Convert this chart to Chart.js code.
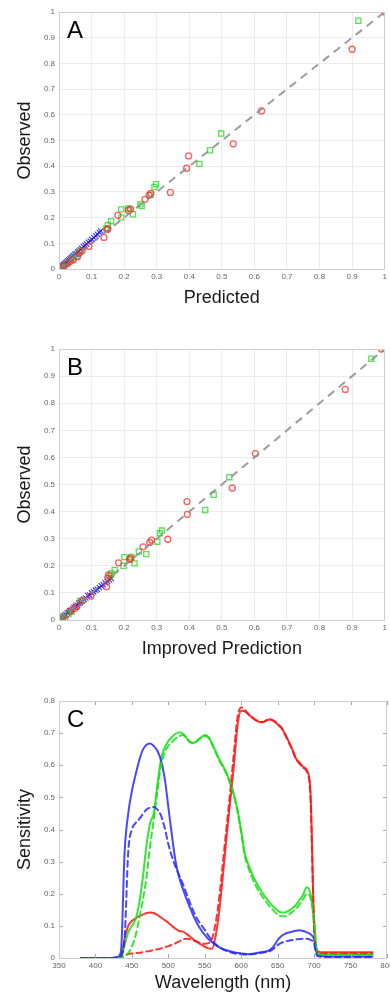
<!DOCTYPE html>
<html><head><meta charset="utf-8">
<script src="https://cdn.jsdelivr.net/npm/chart.js@4/dist/chart.umd.min.js"></script>
<style>
html,body{margin:0;padding:0;background:#fff;width:390px;height:997px;overflow:hidden}
canvas{position:absolute;left:0}
</style></head><body>
<canvas id="cA" width="390" height="311" style="top:0;width:390px;height:311px"></canvas>
<canvas id="cB" width="390" height="351" style="top:311px;width:390px;height:351px"></canvas>
<canvas id="cC" width="390" height="335" style="top:662px;width:390px;height:335px"></canvas>
<script>
// ---------- Panel A (Predicted vs Observed) ----------
const redPredA = [1.0,0.90,0.622,0.535,0.398,0.392,0.342,0.282,0.277,0.264,0.22,0.213,0.181,0.15,0.148,0.138,0.092,0.071,0.062,0.057,0.044,0.035,0.025,0.015,0.006];
const redObsA  = [1.0,0.855,0.615,0.487,0.44,0.392,0.298,0.294,0.287,0.271,0.233,0.228,0.209,0.157,0.154,0.123,0.088,0.071,0.062,0.048,0.036,0.03,0.02,0.011,0.003];
const greenPredA = [0.919,0.498,0.464,0.431,0.298,0.293,0.281,0.254,0.25,0.227,0.217,0.212,0.191,0.191,0.16,0.15,0.145,0.066,0.054,0.042,0.028,0.014,0.005];
const greenObsA  = [0.966,0.527,0.462,0.409,0.33,0.319,0.289,0.245,0.252,0.213,0.233,0.236,0.232,0.201,0.186,0.171,0.158,0.07,0.05,0.04,0.024,0.008,0.004];
const bluePredA = [0.002,0.005,0.008,0.011,0.014,0.017,0.02,0.024,0.027,0.031,0.034,0.038,0.041,0.045,0.049,0.053,0.057,0.061,0.066,0.07,0.075,0.08,0.085,0.09,0.096,0.101,0.107,0.113,0.118,0.124,0.128];
const blueObsA  = [0.004,0.006,0.01,0.012,0.017,0.019,0.024,0.027,0.032,0.035,0.04,0.043,0.048,0.052,0.057,0.06,0.066,0.07,0.075,0.08,0.087,0.092,0.097,0.104,0.109,0.115,0.122,0.129,0.135,0.142,0.148];

// ---------- Panel B (Improved Prediction vs Observed) ----------
const redPredB = [0.99,0.879,0.603,0.532,0.393,0.394,0.334,0.284,0.279,0.258,0.22,0.216,0.183,0.152,0.15,0.146,0.098,0.072,0.055,0.049,0.035,0.018,0.01];
const redObsB  = [1.0,0.851,0.614,0.487,0.437,0.39,0.298,0.295,0.286,0.27,0.228,0.223,0.211,0.166,0.155,0.123,0.088,0.072,0.05,0.043,0.033,0.006,0.003];
const greenPredB = [0.959,0.523,0.475,0.449,0.316,0.31,0.302,0.268,0.245,0.232,0.222,0.218,0.201,0.198,0.171,0.161,0.157,0.065,0.039,0.029,0.012,0.004];
const greenObsB  = [0.964,0.527,0.462,0.406,0.33,0.32,0.289,0.243,0.253,0.209,0.233,0.225,0.232,0.2,0.185,0.172,0.163,0.07,0.031,0.022,0.01,0.003];
const bluePredB = [0.003,0.006,0.01,0.013,0.017,0.021,0.025,0.029,0.033,0.037,0.042,0.046,0.051,0.056,0.061,0.066,0.071,0.077,0.082,0.088,0.094,0.1,0.106,0.112,0.118,0.124,0.13,0.136,0.142,0.149,0.155,0.16];
const blueObsB  = [0.002,0.007,0.009,0.014,0.016,0.02,0.026,0.028,0.034,0.036,0.041,0.047,0.05,0.055,0.062,0.064,0.07,0.076,0.081,0.09,0.092,0.1,0.104,0.11,0.113,0.12,0.126,0.13,0.137,0.143,0.148,0.153];

const identityLine = [0, 1];

// ---------- Panel C (Sensitivity spectra) ----------
const wavelengths = [380,400,420,430,435,440,445,450,455,460,465,470,475,480,485,490,495,500,505,510,515,520,525,530,535,540,545,550,555,560,565,570,575,580,585,590,595,600,605,610,615,620,625,630,635,640,645,650,655,660,665,670,675,680,685,690,695,700,703,706,710,720,740,760,780];
const blueSolid  = [0,0,0,0.003,0.02,0.33,0.45,0.52,0.57,0.615,0.648,0.664,0.668,0.66,0.645,0.615,0.56,0.47,0.38,0.3,0.25,0.215,0.183,0.155,0.128,0.105,0.087,0.072,0.059,0.049,0.04,0.033,0.028,0.024,0.021,0.018,0.016,0.014,0.013,0.012,0.013,0.015,0.017,0.019,0.021,0.026,0.038,0.056,0.068,0.075,0.079,0.082,0.085,0.086,0.084,0.08,0.074,0.058,0.02,0.008,0.006,0.005,0.005,0.005,0.005];
const blueDashed = [0,0,0,0.002,0.008,0.06,0.33,0.4,0.42,0.432,0.448,0.462,0.468,0.47,0.462,0.443,0.405,0.355,0.315,0.283,0.256,0.23,0.2,0.17,0.143,0.12,0.103,0.088,0.07,0.055,0.043,0.034,0.027,0.022,0.018,0.015,0.013,0.012,0.011,0.011,0.012,0.013,0.015,0.017,0.019,0.022,0.03,0.04,0.047,0.051,0.054,0.056,0.058,0.059,0.06,0.06,0.056,0.045,0.012,0.005,0.004,0.003,0.003,0.003,0.003];
const greenSolid  = [null,null,null,0,0.005,0.04,0.08,0.1,0.12,0.17,0.25,0.35,0.42,0.45,0.54,0.62,0.655,0.675,0.688,0.698,0.703,0.698,0.685,0.672,0.67,0.678,0.687,0.694,0.688,0.668,0.643,0.618,0.598,0.575,0.545,0.508,0.46,0.395,0.325,0.29,0.262,0.238,0.218,0.2,0.184,0.17,0.158,0.148,0.142,0.142,0.147,0.155,0.165,0.18,0.198,0.22,0.2,0.12,0.03,0.014,0.012,0.012,0.012,0.012,0.012];
const greenDashed = [null,null,null,0,0.002,0.006,0.015,0.035,0.07,0.12,0.18,0.25,0.35,0.43,0.52,0.6,0.64,0.66,0.672,0.683,0.69,0.694,0.684,0.671,0.669,0.677,0.685,0.691,0.686,0.665,0.64,0.615,0.595,0.572,0.542,0.505,0.456,0.39,0.318,0.28,0.25,0.225,0.205,0.188,0.172,0.158,0.146,0.136,0.13,0.13,0.134,0.143,0.153,0.167,0.183,0.2,0.188,0.11,0.028,0.012,0.01,0.01,0.01,0.01,0.01];
const redSolid  = [null,null,null,0,0.005,0.06,0.1,0.115,0.123,0.13,0.135,0.14,0.142,0.14,0.134,0.126,0.118,0.11,0.1,0.091,0.084,0.082,0.075,0.066,0.057,0.049,0.042,0.035,0.03,0.029,0.07,0.15,0.26,0.38,0.49,0.6,0.725,0.77,0.768,0.758,0.748,0.74,0.735,0.735,0.74,0.743,0.738,0.728,0.718,0.698,0.675,0.65,0.622,0.608,0.595,0.585,0.52,0.1,0.03,0.02,0.018,0.018,0.018,0.018,0.018];
const redDashed = [null,null,null,0,0.002,0.008,0.012,0.014,0.015,0.016,0.018,0.02,0.022,0.025,0.027,0.03,0.033,0.037,0.041,0.046,0.052,0.058,0.06,0.058,0.054,0.05,0.046,0.044,0.046,0.06,0.11,0.19,0.3,0.41,0.52,0.64,0.75,0.78,0.772,0.76,0.75,0.741,0.736,0.735,0.74,0.742,0.737,0.727,0.716,0.696,0.672,0.648,0.62,0.605,0.592,0.58,0.5,0.09,0.025,0.016,0.014,0.014,0.014,0.014,0.014];

const FONT = "'Liberation Sans', Arial, Helvetica, sans-serif";
const RED = 'rgba(255,40,40,0.75)', GREEN = 'rgba(30,215,30,0.75)', BLUE = 'rgba(20,20,235,0.85)';

function pts(xs, ys){ return xs.map((x,i)=>({x:x, y:ys[i]})); }
function fmt(v){ return String(Math.round(v*1000)/1000); }

function framePlugin(letter, inTicks){
  return {
    id:'frame'+letter,
    afterDatasetsDraw(chart){
      const {ctx, chartArea:a, scales} = chart;
      ctx.save();
      if (inTicks){
        ctx.strokeStyle = '#a8a8a8'; ctx.lineWidth = 1;
        ctx.beginPath();
        scales.x.ticks.forEach(t=>{
          const px = Math.round(scales.x.getPixelForValue(t.value))+0.5;
          ctx.moveTo(px, a.bottom); ctx.lineTo(px, a.bottom-4);
          ctx.moveTo(px, a.top); ctx.lineTo(px, a.top+4);
        });
        scales.y.ticks.forEach(t=>{
          const py = Math.round(scales.y.getPixelForValue(t.value))+0.5;
          ctx.moveTo(a.left, py); ctx.lineTo(a.left+4, py);
          ctx.moveTo(a.right, py); ctx.lineTo(a.right-4, py);
        });
        ctx.stroke();
      }
      ctx.strokeStyle = '#cdcdcd'; ctx.lineWidth = 1;
      ctx.strokeRect(Math.round(a.left)+0.5, Math.round(a.top)+0.5, Math.round(a.right-a.left)-1, Math.round(a.bottom-a.top));
      ctx.restore();
    },
    afterDraw(chart){
      const {ctx, chartArea:a} = chart;
      ctx.save();
      ctx.fillStyle = '#000';
      ctx.font = '24px ' + FONT;
      ctx.textAlign = 'left'; ctx.textBaseline = 'alphabetic';
      ctx.fillText(letter, a.left + 8, a.top + 26);
      ctx.restore();
    }
  };
}

function axis(title, min, max, step, isX, fitSize, titlePad, gridOn){
  return {
    type:'linear', min:min, max:max,
    ticks:{stepSize:step, color:'#666', font:{family:FONT, size:8}, padding: isX?3:4, autoSkip:false, maxRotation:0, callback:(v)=>fmt(v)},
    grid:{display:gridOn, color:'#ececec', drawTicks:false, lineWidth:1},
    border:{display:false},
    title:{display:true, text:title, color:'#1a1a1a', font:{family:FONT, size:18}, padding:titlePad},
    afterFit(s){
      if (isX) s.height = fitSize; else s.width = fitSize;
      s.paddingLeft = 0; s.paddingRight = 0; s.paddingTop = 0; s.paddingBottom = 0;
    }
  };
}

function scatterChart(id, letter, xTitle, topPad, axisH, red, green, blue){
  return new Chart(document.getElementById(id), {
    type:'scatter',
    data:{datasets:[
      {type:'line', data:pts(identityLine, identityLine), borderColor:'rgba(140,140,140,0.85)', borderWidth:2, borderDash:[8,6], pointRadius:0, fill:false},
      {data:pts(red[0], red[1]), pointStyle:'circle', pointRadius:3, borderColor:RED, backgroundColor:'rgba(0,0,0,0)', pointBorderWidth:1.3},
      {data:pts(green[0], green[1]), pointStyle:'rect', pointRadius:3.6, borderColor:GREEN, backgroundColor:'rgba(0,0,0,0)', pointBorderWidth:1.3},
      {data:pts(blue[0], blue[1]), pointStyle:'crossRot', pointRadius:3.8, borderColor:BLUE, backgroundColor:'rgba(0,0,0,0)', pointBorderWidth:1.1}
    ]},
    options:{
      responsive:false, animation:false, devicePixelRatio:1,
      layout:{padding:{left:0, right:3, top:topPad, bottom:0}},
      plugins:{legend:{display:false}, tooltip:{enabled:false}},
      scales:{
        x: axis(xTitle, 0, 1, 0.1, true, axisH, {top:0, bottom:2}, true),
        y: axis('Observed', 0, 1, 0.1, false, 59, {top:14, bottom:0}, true)
      }
    },
    plugins:[framePlugin(letter, false)]
  });
}

scatterChart('cA', 'A', 'Predicted', 12, 42, [redPredA, redObsA], [greenPredA, greenObsA], [bluePredA, blueObsA]);
scatterChart('cB', 'B', 'Improved Prediction', 38, 42, [redPredB, redObsB], [greenPredB, greenObsB], [bluePredB, blueObsB]);

function spec(vals, color, dashed){
  return {data:pts(wavelengths, vals), borderColor:color, borderWidth:2, borderDash: dashed?[6,4]:[], pointRadius:0, fill:false, cubicInterpolationMode:'monotone', spanGaps:false, borderJoinStyle:'round', borderCapStyle:'round'};
}
const CB = 'rgba(40,40,255,0.85)', CG = 'rgba(20,225,20,0.85)', CR = 'rgba(255,20,20,0.85)';
new Chart(document.getElementById('cC'), {
  type:'line',
  data:{datasets:[
    spec(blueDashed, CB, true), spec(greenDashed, CG, true), spec(redDashed, CR, true),
    spec(blueSolid, CB, false), spec(greenSolid, CG, false), spec(redSolid, CR, false)
  ]},
  options:{
    responsive:false, animation:false, devicePixelRatio:1,
    layout:{padding:{left:0, right:3, top:39, bottom:0}},
    plugins:{legend:{display:false}, tooltip:{enabled:false}},
    scales:{
      x: axis('Wavelength (nm)', 350, 800, 50, true, 39, {top:0, bottom:3}, false),
      y: axis('Sensitivity', 0, 0.8, 0.1, false, 59, {top:14, bottom:0}, false)
    }
  },
  plugins:[framePlugin('C', true)]
});
</script>
</body></html>
